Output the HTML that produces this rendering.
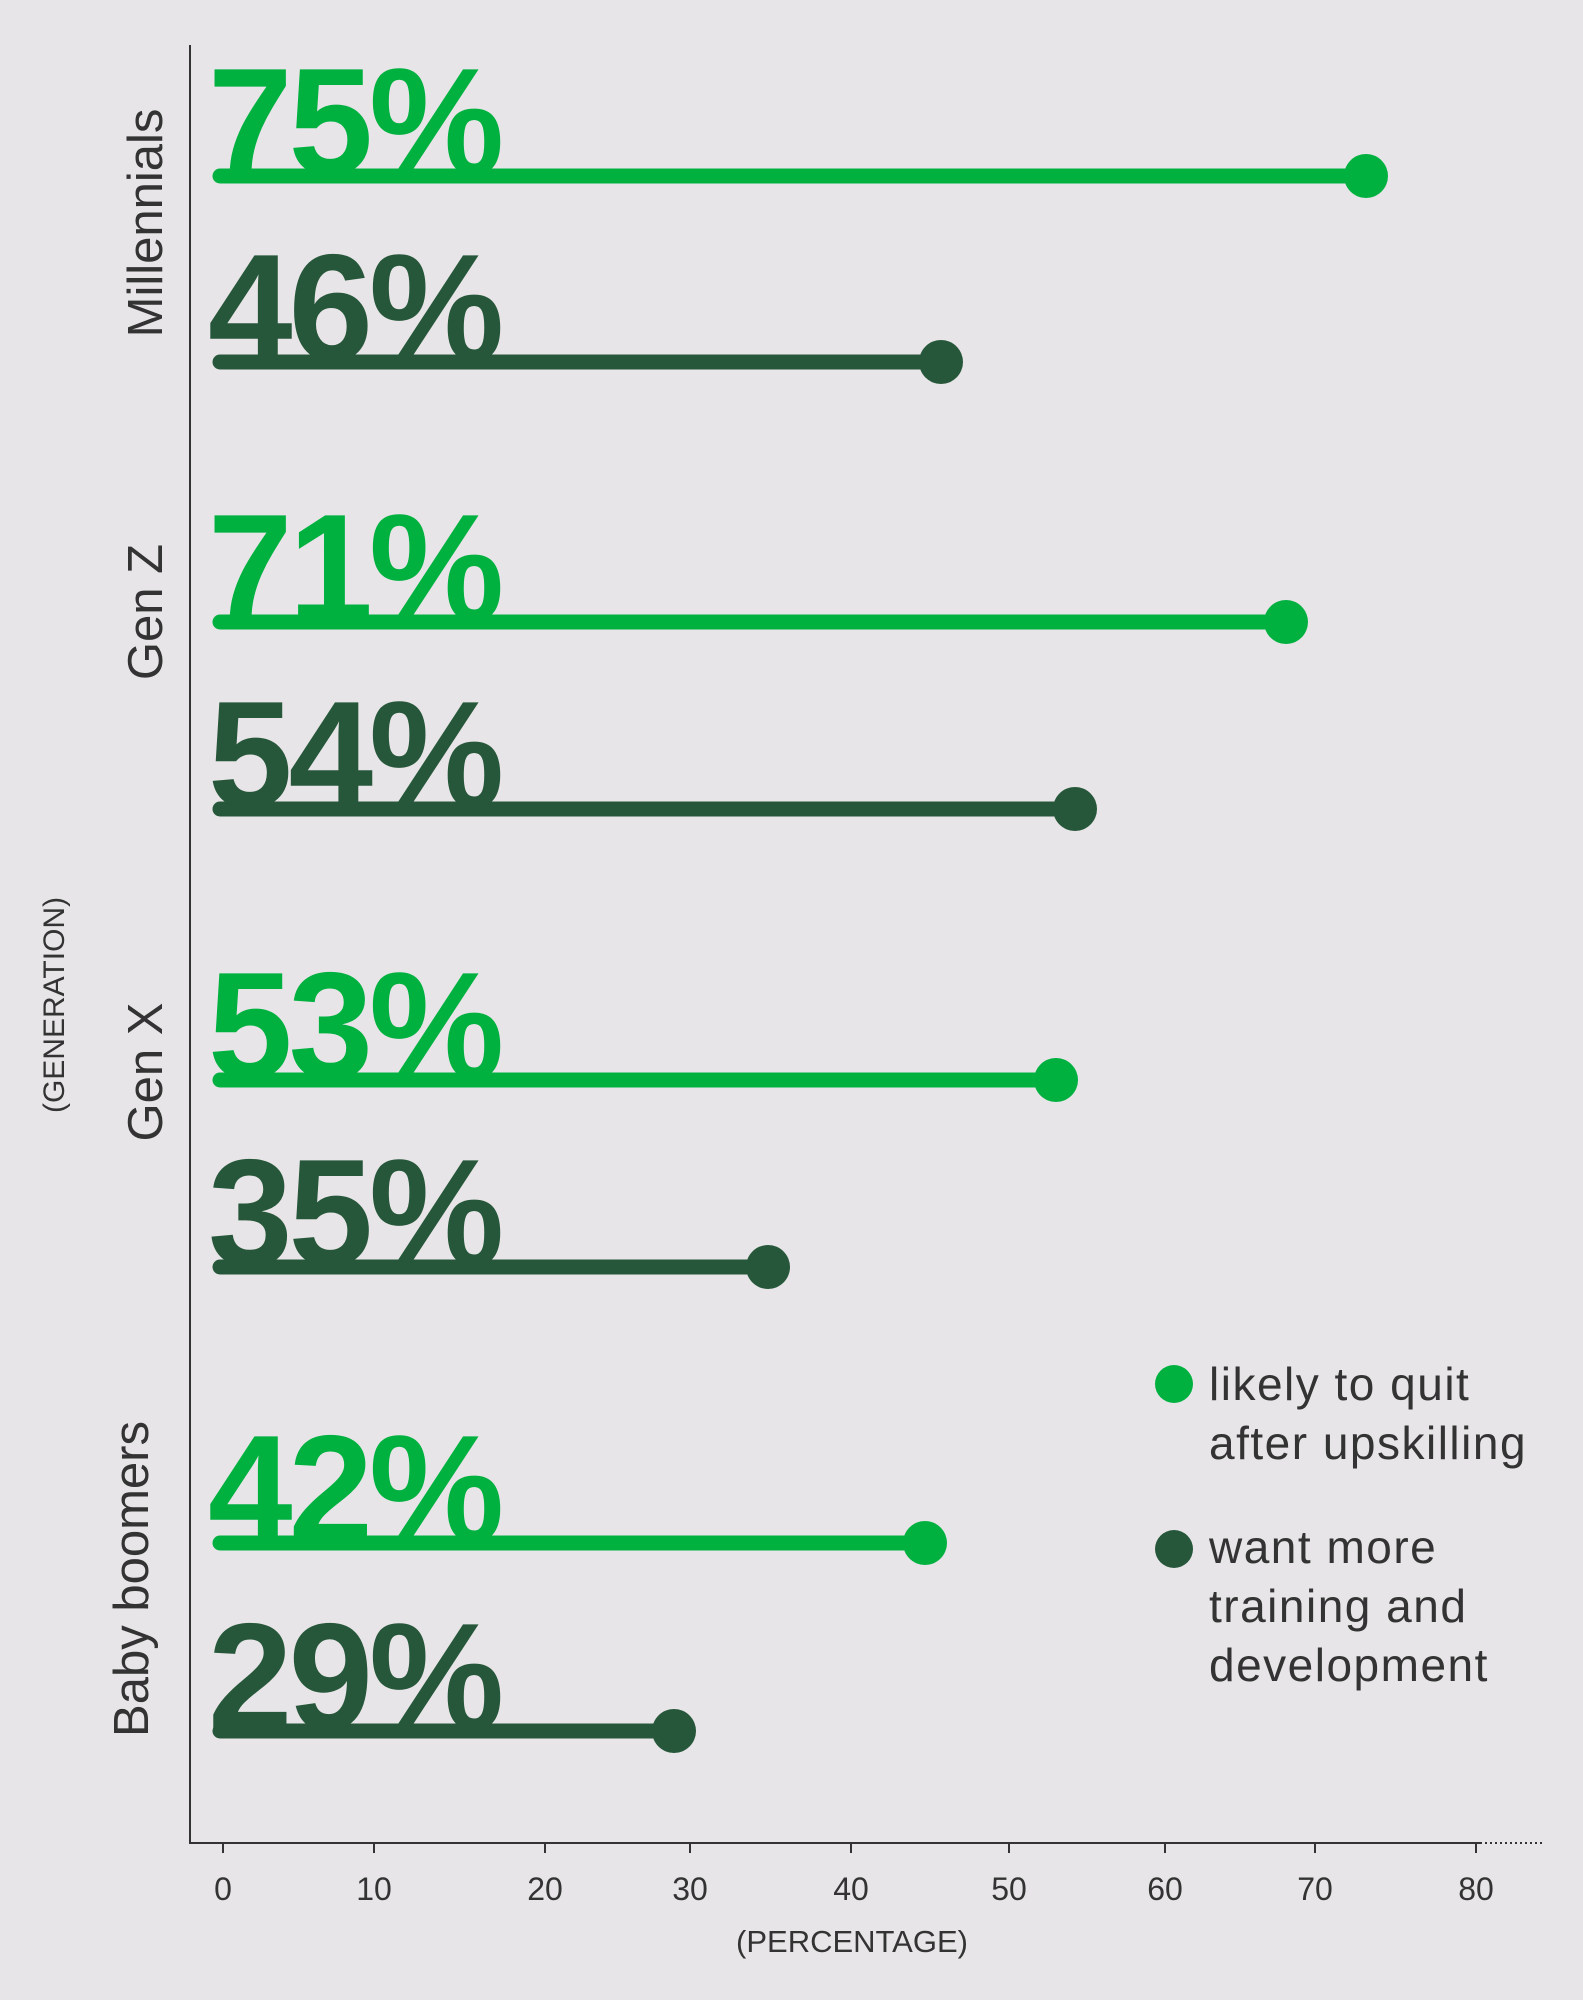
<!DOCTYPE html>
<html><head><meta charset="utf-8"><style>
html,body{margin:0;padding:0;background:#e7e5e7;}
svg{display:block;}
.big{font-family:"Liberation Sans",sans-serif;font-weight:bold;font-size:152px;letter-spacing:-4px;}
.lab{font-family:"Liberation Sans",sans-serif;font-size:49px;fill:#333;}
.tk{font-family:"Liberation Sans",sans-serif;font-size:32px;fill:#333;}
.lg{font-family:"Liberation Sans",sans-serif;font-size:46px;letter-spacing:1.5px;fill:#333;}
</style></head><body>
<svg width="1583" height="2000" viewBox="0 0 1583 2000" xmlns="http://www.w3.org/2000/svg">
<rect width="1583" height="2000" fill="#e7e5e7"/>
<line x1="190" y1="45" x2="190" y2="1844" stroke="#333" stroke-width="2"/>
<line x1="190" y1="1843" x2="1480" y2="1843" stroke="#333" stroke-width="2"/>
<line x1="1480" y1="1843" x2="1544" y2="1843" stroke="#333" stroke-width="2" stroke-dasharray="2,3"/>
<g stroke="#333" stroke-width="2">
<line x1="223" y1="1843" x2="223" y2="1853"/><line x1="374" y1="1843" x2="374" y2="1853"/><line x1="545" y1="1843" x2="545" y2="1853"/><line x1="690" y1="1843" x2="690" y2="1853"/><line x1="851" y1="1843" x2="851" y2="1853"/><line x1="1009" y1="1843" x2="1009" y2="1853"/><line x1="1165" y1="1843" x2="1165" y2="1853"/><line x1="1315" y1="1843" x2="1315" y2="1853"/><line x1="1476" y1="1843" x2="1476" y2="1853"/>
</g>
<g class="tk" text-anchor="middle">
<text x="223" y="1900">0</text><text x="374" y="1900">10</text><text x="545" y="1900">20</text><text x="690" y="1900">30</text><text x="851" y="1900">40</text><text x="1009" y="1900">50</text><text x="1165" y="1900">60</text><text x="1315" y="1900">70</text><text x="1476" y="1900">80</text>
<text x="852" y="1952" style="font-size:31px">(PERCENTAGE)</text>
</g>
<g class="lab" text-anchor="middle">
<text transform="translate(162,223) rotate(-90)">Millennials</text>
<text transform="translate(162,612) rotate(-90)">Gen Z</text>
<text transform="translate(162,1072) rotate(-90)">Gen X</text>
<text transform="translate(148,1579) rotate(-90)">Baby boomers</text>
<text transform="translate(64,1005) rotate(-90)" style="font-size:30px">(GENERATION)</text>
</g>
<g stroke-linecap="round" stroke-width="15">
<line x1="220" y1="176" x2="1366" y2="176" stroke="#00b140"/>
<line x1="220" y1="362" x2="941" y2="362" stroke="#27573a"/>
<line x1="220" y1="622" x2="1286" y2="622" stroke="#00b140"/>
<line x1="220" y1="809" x2="1075" y2="809" stroke="#27573a"/>
<line x1="220" y1="1080" x2="1056" y2="1080" stroke="#00b140"/>
<line x1="220" y1="1267" x2="768" y2="1267" stroke="#27573a"/>
<line x1="220" y1="1543" x2="925" y2="1543" stroke="#00b140"/>
<line x1="220" y1="1731" x2="674" y2="1731" stroke="#27573a"/>
</g>
<circle cx="1366" cy="176" r="22" fill="#00b140"/>
<circle cx="941" cy="362" r="22" fill="#27573a"/>
<circle cx="1286" cy="622" r="22" fill="#00b140"/>
<circle cx="1075" cy="809" r="22" fill="#27573a"/>
<circle cx="1056" cy="1080" r="22" fill="#00b140"/>
<circle cx="768" cy="1267" r="22" fill="#27573a"/>
<circle cx="925" cy="1543" r="22" fill="#00b140"/>
<circle cx="674" cy="1731" r="22" fill="#27573a"/>
<text class="big" x="208" y="174" fill="#00b140">75%</text>
<text class="big" x="208" y="360" fill="#27573a">46%</text>
<text class="big" x="208" y="620" fill="#00b140">71%</text>
<text class="big" x="208" y="807" fill="#27573a">54%</text>
<text class="big" x="208" y="1078" fill="#00b140">53%</text>
<text class="big" x="208" y="1265" fill="#27573a">35%</text>
<text class="big" x="208" y="1541" fill="#00b140">42%</text>
<text class="big" x="208" y="1729" fill="#27573a">29%</text>
<circle cx="1174" cy="1384" r="19" fill="#00b140"/>
<circle cx="1174" cy="1549" r="19" fill="#27573a"/>
<g class="lg">
<text x="1209" y="1400">likely to quit</text>
<text x="1209" y="1459">after upskilling</text>
<text x="1209" y="1563">want more</text>
<text x="1209" y="1622">training and</text>
<text x="1209" y="1681">development</text>
</g>
</svg>
</body></html>
